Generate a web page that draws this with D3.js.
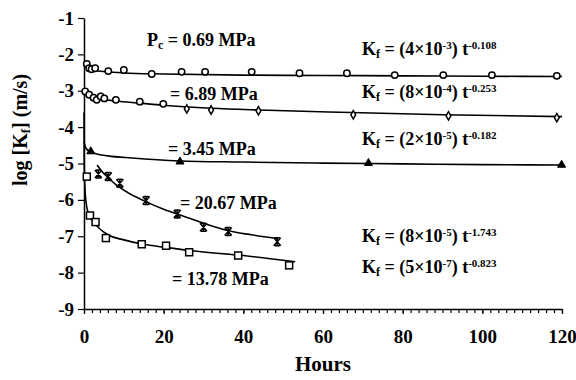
<!DOCTYPE html>
<html>
<head>
<meta charset="utf-8">
<script src="https://cdn.jsdelivr.net/npm/d3@7"></script>
<style>
  body { margin: 0; background: #fff; }
  text { font-family: "Liberation Serif", "Times New Roman", serif; font-weight: bold; fill: #000; }
  .domain { stroke: #000; stroke-width: 1.5px; }
  .tick line { stroke: #000; stroke-width: 1.2px; }
  .fit { fill: none; stroke: #000; stroke-width: 1.6px; }
</style>
</head>
<body>
<div id="chart"></div>
<script>
const hours069 = [0.7, 1.3, 1.9, 2.8, 6.1, 10.0, 17.0, 24.5, 30.4, 42.1, 54.1, 66.0, 78.0, 90.2, 102.4, 118.7];
const log069   = [-2.26, -2.38, -2.41, -2.38, -2.46, -2.43, -2.54, -2.48, -2.48, -2.48, -2.52, -2.52, -2.57, -2.57, -2.57, -2.59];

const hours689a = [0.3, 1.3, 2.4, 3.2, 4.2, 5.1, 8.0, 14.0, 19.9];
const log689a   = [-3.02, -3.11, -3.19, -3.25, -3.16, -3.21, -3.25, -3.30, -3.36];
const hours689b = [25.8, 31.9, 43.8, 67.6, 91.5, 118.7];
const log689b   = [-3.50, -3.53, -3.55, -3.66, -3.69, -3.74];

const hours345 = [1.7, 24.1, 71.4, 119.9];
const log345   = [-4.67, -4.95, -4.99, -5.04];

const hours2067 = [3.6, 6.1, 9.0, 15.6, 23.4, 30.0, 36.2, 48.5];
const log2067   = [-5.29, -5.36, -5.54, -6.02, -6.39, -6.75, -6.87, -7.15];

const hours1378 = [0.7, 1.5, 2.9, 5.5, 14.5, 20.6, 26.4, 38.7, 51.5];
const log1378   = [-5.36, -6.43, -6.61, -7.05, -7.22, -7.26, -7.44, -7.53, -7.80];

// fitted curves
const fitHours069 = [0, 0.5, 1, 2, 5, 10, 20, 40, 60, 80, 100, 120];
const fitLog069   = [-2.30, -2.36, -2.40, -2.43, -2.47, -2.51, -2.54, -2.57, -2.58, -2.59, -2.60, -2.61];
const fitHours689 = [0, 0.7, 1.5, 3, 5, 8, 14, 20, 32, 44, 67, 90, 120];
const fitLog689   = [-2.95, -3.00, -3.08, -3.18, -3.24, -3.28, -3.34, -3.40, -3.48, -3.53, -3.60, -3.66, -3.71];
const fitHours345 = [0, 0.5, 1.5, 3, 6, 12, 24, 40, 60, 80, 100, 120];
const fitLog345   = [-4.40, -4.58, -4.67, -4.73, -4.79, -4.85, -4.93, -4.96, -4.99, -5.01, -5.03, -5.04];
const fitHours2067 = [3.3, 4.5, 6, 8, 11, 15, 20, 25, 30, 36, 42, 48.5];
const fitLog2067   = [-5.04, -5.22, -5.38, -5.58, -5.80, -6.02, -6.26, -6.45, -6.64, -6.84, -6.96, -7.06];
const fitHours1378 = [0, 0.05, 0.2, 0.5, 0.9, 1.5, 2.5, 4, 6, 10, 15, 20, 27, 40, 53];
const fitLog1378   = [-3.6, -4.9, -5.6, -6.05, -6.3, -6.47, -6.63, -6.8, -6.96, -7.1, -7.22, -7.3, -7.40, -7.53, -7.70];

const xTicks = [0, 20, 40, 60, 80, 100, 120];
const xTickLabels = ["0", "20", "40", "60", "80", "100", "120"];
const yTicks = [-1, -2, -3, -4, -5, -6, -7, -8, -9];
const yTickLabels = ["-1", "-2", "-3", "-4", "-5", "-6", "-7", "-8", "-9"];

const W = 576, H = 380;
const margin = { top: 18, right: 14, bottom: 71, left: 84 };

const svg = d3.select('#chart').append('svg').attr('width', W).attr('height', H);

const x = d3.scaleLinear().domain([0, 120]).range([margin.left, W - margin.right]);
const y = d3.scaleLinear().domain([-9, -1]).range([H - margin.bottom, margin.top]);

// minor ticks on x
svg.append('g')
  .attr('transform', `translate(0,${y(-9)})`)
  .call(d3.axisBottom(x).tickValues(d3.range(0, 121, 2)).tickSize(4).tickFormat(''))
  .select('.domain').remove();

// X axis
svg.append('g')
  .attr('transform', `translate(0,${y(-9)})`)
  .call(d3.axisBottom(x).tickValues(xTicks).tickSize(5).tickPadding(16)
    .tickFormat((d, i) => xTickLabels[i]).tickSizeOuter(0))
  .selectAll('text').style('font-size', '19px');

// Y axis
svg.append('g')
  .attr('transform', `translate(${x(0)},0)`)
  .call(d3.axisLeft(y).tickValues(yTicks).tickSize(6).tickPadding(4)
    .tickFormat((d, i) => yTickLabels[i]).tickSizeOuter(0))
  .selectAll('text').style('font-size', '19px');

// axis titles
svg.append('text')
  .attr('x', 323).attr('y', 371)
  .attr('text-anchor', 'middle')
  .style('font-size', '21px')
  .text('Hours');

const yt = svg.append('text')
  .attr('transform', 'translate(27,130) rotate(-90)')
  .attr('text-anchor', 'middle')
  .style('font-size', '20px');
yt.append('tspan').text('log [K');
yt.append('tspan').attr('baseline-shift', '-25%').style('font-size', '13px').text('f');
yt.append('tspan').text('] (m/s)');

// fit curves
const fitLine = d3.line()
  .x(d => x(d[0]))
  .y(d => y(d[1]))
  .curve(d3.curveMonotoneX);

[[fitHours069, fitLog069], [fitHours689, fitLog689], [fitHours345, fitLog345],
 [fitHours2067, fitLog2067], [fitHours1378, fitLog1378]].forEach(([hs, ls]) => {
  svg.append('path')
    .datum(hs.map((h, i) => [h, ls[i]]))
    .attr('class', 'fit')
    .attr('d', fitLine);
});

// markers
function pts(hs, ls) { return hs.map((h, i) => [h, ls[i]]); }

svg.append('g').selectAll('circle')
  .data(pts(hours069, log069).concat(pts(hours689a, log689a)))
  .join('circle')
  .attr('cx', d => x(d[0])).attr('cy', d => y(d[1])).attr('r', 3.2)
  .attr('fill', '#fff').attr('stroke', '#000').attr('stroke-width', 1.5);

svg.append('g').selectAll('path')
  .data(pts(hours689b, log689b))
  .join('path')
  .attr('transform', d => `translate(${x(d[0])},${y(d[1])})`)
  .attr('d', d3.symbol(d3.symbolDiamond, 20))
  .attr('fill', '#fff').attr('stroke', '#000').attr('stroke-width', 1.5);

svg.append('g').selectAll('path')
  .data(pts(hours345, log345))
  .join('path')
  .attr('transform', d => `translate(${x(d[0])},${y(d[1])})`)
  .attr('d', d3.symbol(d3.symbolTriangle, 28))
  .attr('fill', '#000').attr('stroke', '#000').attr('stroke-width', 1);

svg.append('g').selectAll('path')
  .data(pts(hours2067, log2067))
  .join('path')
  .attr('transform', d => `translate(${x(d[0])},${y(d[1])})`)
  .attr('d', 'M-3.5,-4L3.5,4M-3.5,4L3.5,-4M0,-4L0,4M-2.5,-4L2.5,-4M-2.5,4L2.5,4')
  .attr('fill', 'none').attr('stroke', '#000').attr('stroke-width', 1.5);

svg.append('g').selectAll('rect')
  .data(pts(hours1378, log1378))
  .join('rect')
  .attr('x', d => x(d[0]) - 3.5).attr('y', d => y(d[1]) - 3.5)
  .attr('width', 7).attr('height', 7)
  .attr('fill', '#fff').attr('stroke', '#000').attr('stroke-width', 1.5);

// series labels
const pressureLabels = [
  { x: 147, y: 46, pre: 'P', sub: 'c', text: ' = 0.69 MPa' },
  { x: 170, y: 100, text: '= 6.89 MPa' },
  { x: 168, y: 155, text: '= 3.45 MPa' },
  { x: 180, y: 209, text: '= 20.67 MPa' },
  { x: 172, y: 285, text: '= 13.78 MPa' }
];
pressureLabels.forEach(l => {
  const t = svg.append('text').attr('x', l.x).attr('y', l.y).style('font-size', '18px');
  if (l.pre) {
    t.append('tspan').text(l.pre);
    t.append('tspan').attr('baseline-shift', '-25%').style('font-size', '12px').text(l.sub);
  }
  t.append('tspan').text(l.text);
});

// fit equations
const coefs = ['4', '8', '2', '8', '5'];
const coefExps = ['-3', '-4', '-5', '-5', '-7'];
const tExps = ['-0.108', '-0.253', '-0.182', '-1.743', '-0.823'];
const eqBaselines = [55, 98, 145, 242, 273];

eqBaselines.forEach((by, i) => {
  const t = svg.append('text').attr('x', 362).attr('y', by).style('font-size', '18px');
  t.append('tspan').text('K');
  t.append('tspan').attr('baseline-shift', '-25%').style('font-size', '12px').text('f');
  t.append('tspan').text(` = (${coefs[i]}×10`);
  t.append('tspan').attr('baseline-shift', 'super').style('font-size', '11px').text(coefExps[i]);
  t.append('tspan').text(') t');
  t.append('tspan').attr('baseline-shift', 'super').style('font-size', '11px').text(tExps[i]);
});
</script>
</body>
</html>
